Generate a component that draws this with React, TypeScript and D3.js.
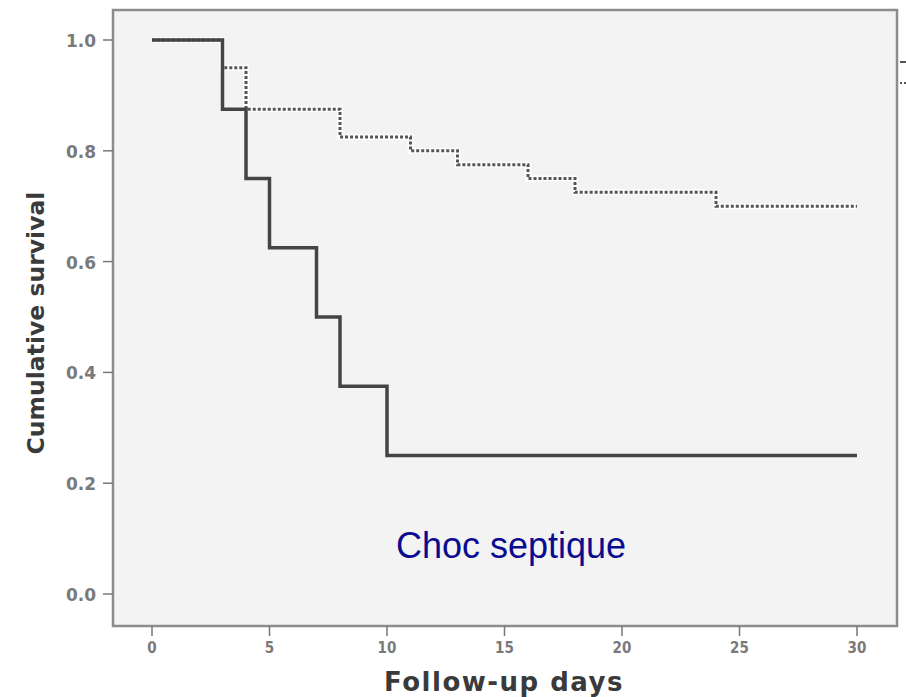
import React, { useEffect, useRef } from 'react';
import * as d3 from 'd3';

// Kaplan-Meier steps
const solidDays = [0, 3, 4, 5, 7, 8, 10, 30];
const solidSurv = [1, 0.875, 0.75, 0.625, 0.5, 0.375, 0.25, 0.25];
const dottedDays = [0, 3, 4, 8, 11, 13, 16, 18, 24, 30];
const dottedSurv = [1, 0.95, 0.875, 0.825, 0.8, 0.775, 0.75, 0.725, 0.7, 0.7];

const xTicks = [0, 5, 10, 15, 20, 25, 30];
const yTicks = [0, 0.2, 0.4, 0.6, 0.8, 1.0];
const label = 'Choc septique';

const W = 906;
const H = 697;

function App() {
    const svgRef = useRef<SVGSVGElement>(null);

    useEffect(() => {
        const svg = d3.select(svgRef.current);
        svg.selectAll('*').remove();

        const x = d3.scaleLinear().domain([0, 30]).range([152, 857]);
        const y = d3.scaleLinear().domain([0, 1]).range([594, 40]);
        const frame = { left: 113, top: 10, right: 897, bottom: 626 };

        svg.append('rect')
            .attr('x', frame.left).attr('y', frame.top)
            .attr('width', frame.right - frame.left)
            .attr('height', frame.bottom - frame.top)
            .attr('fill', '#f3f3f3')
            .attr('stroke', '#8c8c8c')
            .attr('stroke-width', 2.5);

        // y axis
        const yAxis = svg.append('g');
        yAxis.selectAll('line').data(yTicks).join('line')
            .attr('x1', frame.left - 10).attr('x2', frame.left)
            .attr('y1', d => y(d)).attr('y2', d => y(d))
            .attr('stroke', '#777').attr('stroke-width', 1.5);
        yAxis.selectAll('text').data(yTicks).join('text')
            .text(d => d3.format('.1f')(d))
            .attr('x', frame.left - 17)
            .attr('y', d => y(d) + 7)
            .attr('text-anchor', 'end')
            .attr('font-family', 'DejaVu Sans')
            .attr('font-weight', 'bold')
            .attr('font-size', 17)
            .attr('fill', '#7a7a7a');

        // x axis
        const xAxis = svg.append('g');
        xAxis.selectAll('line').data(xTicks).join('line')
            .attr('x1', d => x(d)).attr('x2', d => x(d))
            .attr('y1', frame.bottom).attr('y2', frame.bottom + 10)
            .attr('stroke', '#777').attr('stroke-width', 1.5);
        xAxis.selectAll('text').data(xTicks).join('text')
            .text(d => d)
            .attr('x', d => x(d))
            .attr('y', frame.bottom + 27)
            .attr('text-anchor', 'middle')
            .attr('font-family', 'DejaVu Sans Condensed, DejaVu Sans')
            .attr('font-weight', 'bold')
            .attr('font-size', 15)
            .attr('fill', '#7a7a7a');

        svg.append('text')
            .text('Follow-up days')
            .attr('x', 504).attr('y', 691)
            .attr('text-anchor', 'middle')
            .attr('font-family', 'DejaVu Sans')
            .attr('font-weight', 'bold')
            .attr('font-size', 26)
            .attr('letter-spacing', 1.5)
            .attr('fill', '#3a3a3a');

        svg.append('text')
            .text('Cumulative survival')
            .attr('transform', 'translate(44, 323) rotate(-90)')
            .attr('text-anchor', 'middle')
            .attr('font-family', 'DejaVu Sans')
            .attr('font-weight', 'bold')
            .attr('font-size', 23.5)
            .attr('fill', '#3a3a3a');

        const stepLine = d3.line<[number, number]>()
            .x(d => x(d[0]))
            .y(d => y(d[1]))
            .curve(d3.curveStepAfter);

        const dotted = dottedDays.map((d, i) => [d, dottedSurv[i]] as [number, number]);
        const solid = solidDays.map((d, i) => [d, solidSurv[i]] as [number, number]);

        svg.append('path')
            .attr('d', stepLine(dotted))
            .attr('fill', 'none')
            .attr('stroke', '#ffffff')
            .attr('stroke-opacity', 0.8)
            .attr('stroke-width', 6);
        svg.append('path')
            .attr('d', stepLine(dotted))
            .attr('fill', 'none')
            .attr('stroke', '#555')
            .attr('stroke-width', 3)
            .attr('stroke-dasharray', '3 2');

        svg.append('path')
            .attr('d', stepLine(solid))
            .attr('fill', 'none')
            .attr('stroke', '#444')
            .attr('stroke-width', 3.5);

        // legend stubs cut off at the right edge
        svg.append('line')
            .attr('x1', 900).attr('x2', W).attr('y1', 62).attr('y2', 62)
            .attr('stroke', '#555').attr('stroke-width', 2);
        svg.append('line')
            .attr('x1', 900).attr('x2', W).attr('y1', 83).attr('y2', 83)
            .attr('stroke', '#555').attr('stroke-width', 2)
            .attr('stroke-dasharray', '2 2');

        svg.append('text')
            .text(label)
            .attr('x', 511).attr('y', 558)
            .attr('text-anchor', 'middle')
            .attr('font-family', 'Liberation Sans, Arial')
            .attr('font-size', 36)
            .attr('fill', '#0b0b92');
    }, []);

    return (
        <svg
            ref={svgRef}
            width={W}
            height={H}
            style={{ position: 'absolute', left: 0, top: 0, background: '#fff', display: 'block' }}
        />
    );
}

export default App;
